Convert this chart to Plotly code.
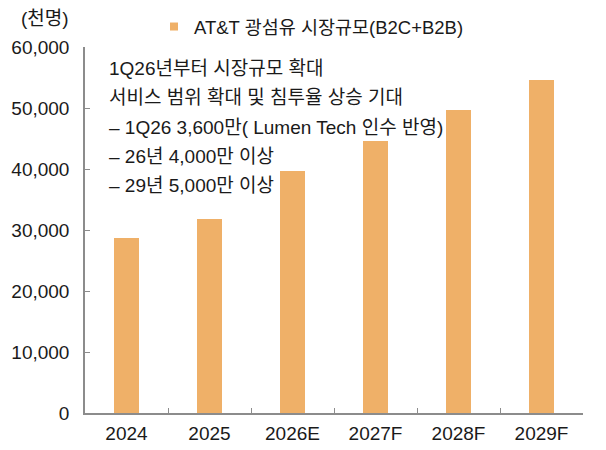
import plotly.graph_objects as go

years = ["2024", "2025", "2026E", "2027F", "2028F", "2029F"]
market_size = [28700, 31800, 39600, 44600, 49700, 54600]
series_name = "AT&T 광섬유 시장규모(B2C+B2B)"
note_lines = [
    "1Q26년부터 시장규모 확대",
    "서비스 범위 확대 및 침투율 상승 기대",
    "– 1Q26 3,600만( Lumen Tech 인수 반영)",
    "– 26년 4,000만 이상",
    "– 29년 5,000만 이상",
]

font_family = "Liberation Sans, Noto Sans CJK KR"
text_color = "#1a1a1a"
axis_color = "#8c8c8c"
bar_color = "#EFB068"

# the page body has an 8px margin, so the figure is drawn 8px smaller
W, H = 598, 442
plot_h = H - 39 - 37

fig = go.Figure()
fig.add_trace(go.Bar(
    x=years,
    y=market_size,
    name=series_name,
    marker=dict(color=bar_color, line=dict(width=0)),
    width=0.29,
    showlegend=False,
))
# small square legend key like the original
fig.add_trace(go.Scatter(
    x=[None], y=[None], mode="markers", name=series_name,
    marker=dict(symbol="square", size=8, color=bar_color),
))

# note block, one annotation per line to get the wide line spacing
for i, line in enumerate(note_lines):
    fig.add_annotation(
        xref="paper", yref="paper",
        x=0.044, y=0.94 - i * 0.0793,
        xanchor="left", yanchor="middle",
        text=line, showarrow=False,
        font=dict(size=19, color=text_color, family=font_family),
    )

fig.update_layout(
    width=W, height=H,
    margin=dict(l=77, r=23, t=39, b=37),
    paper_bgcolor="white", plot_bgcolor="white",
    font=dict(family=font_family, size=19, color=text_color),
    bargap=0,
    showlegend=True,
    legend=dict(
        orientation="h", x=146 / W, y=1 - 19 / H,
        xref="container", yref="container",
        xanchor="left", yanchor="middle",
        font=dict(size=18.5, color=text_color), itemwidth=30,
        bgcolor="rgba(0,0,0,0)",
    ),
    xaxis=dict(
        showline=True, linecolor=axis_color, linewidth=1.5,
        ticks="inside", tickson="boundaries", ticklen=5, tickcolor=axis_color,
        tickfont=dict(size=19), showgrid=False, automargin=False,
        ticklabelstandoff=2,
    ),
    yaxis=dict(
        range=[0, 60000], dtick=10000, tickformat=",",
        showline=True, linecolor=axis_color, linewidth=1.5,
        ticks="inside", ticklen=5, tickcolor=axis_color,
        tickfont=dict(size=19), showgrid=False, zeroline=False,
        automargin=False, ticklabelstandoff=10,
    ),
)

fig.add_annotation(
    xref="paper", yref="paper", x=-0.08, y=(H - 37 - 10) / plot_h,
    xanchor="center", yanchor="middle", showarrow=False,
    text="(천명)", font=dict(size=19, color=text_color, family=font_family),
)

fig.write_html("out.html")
